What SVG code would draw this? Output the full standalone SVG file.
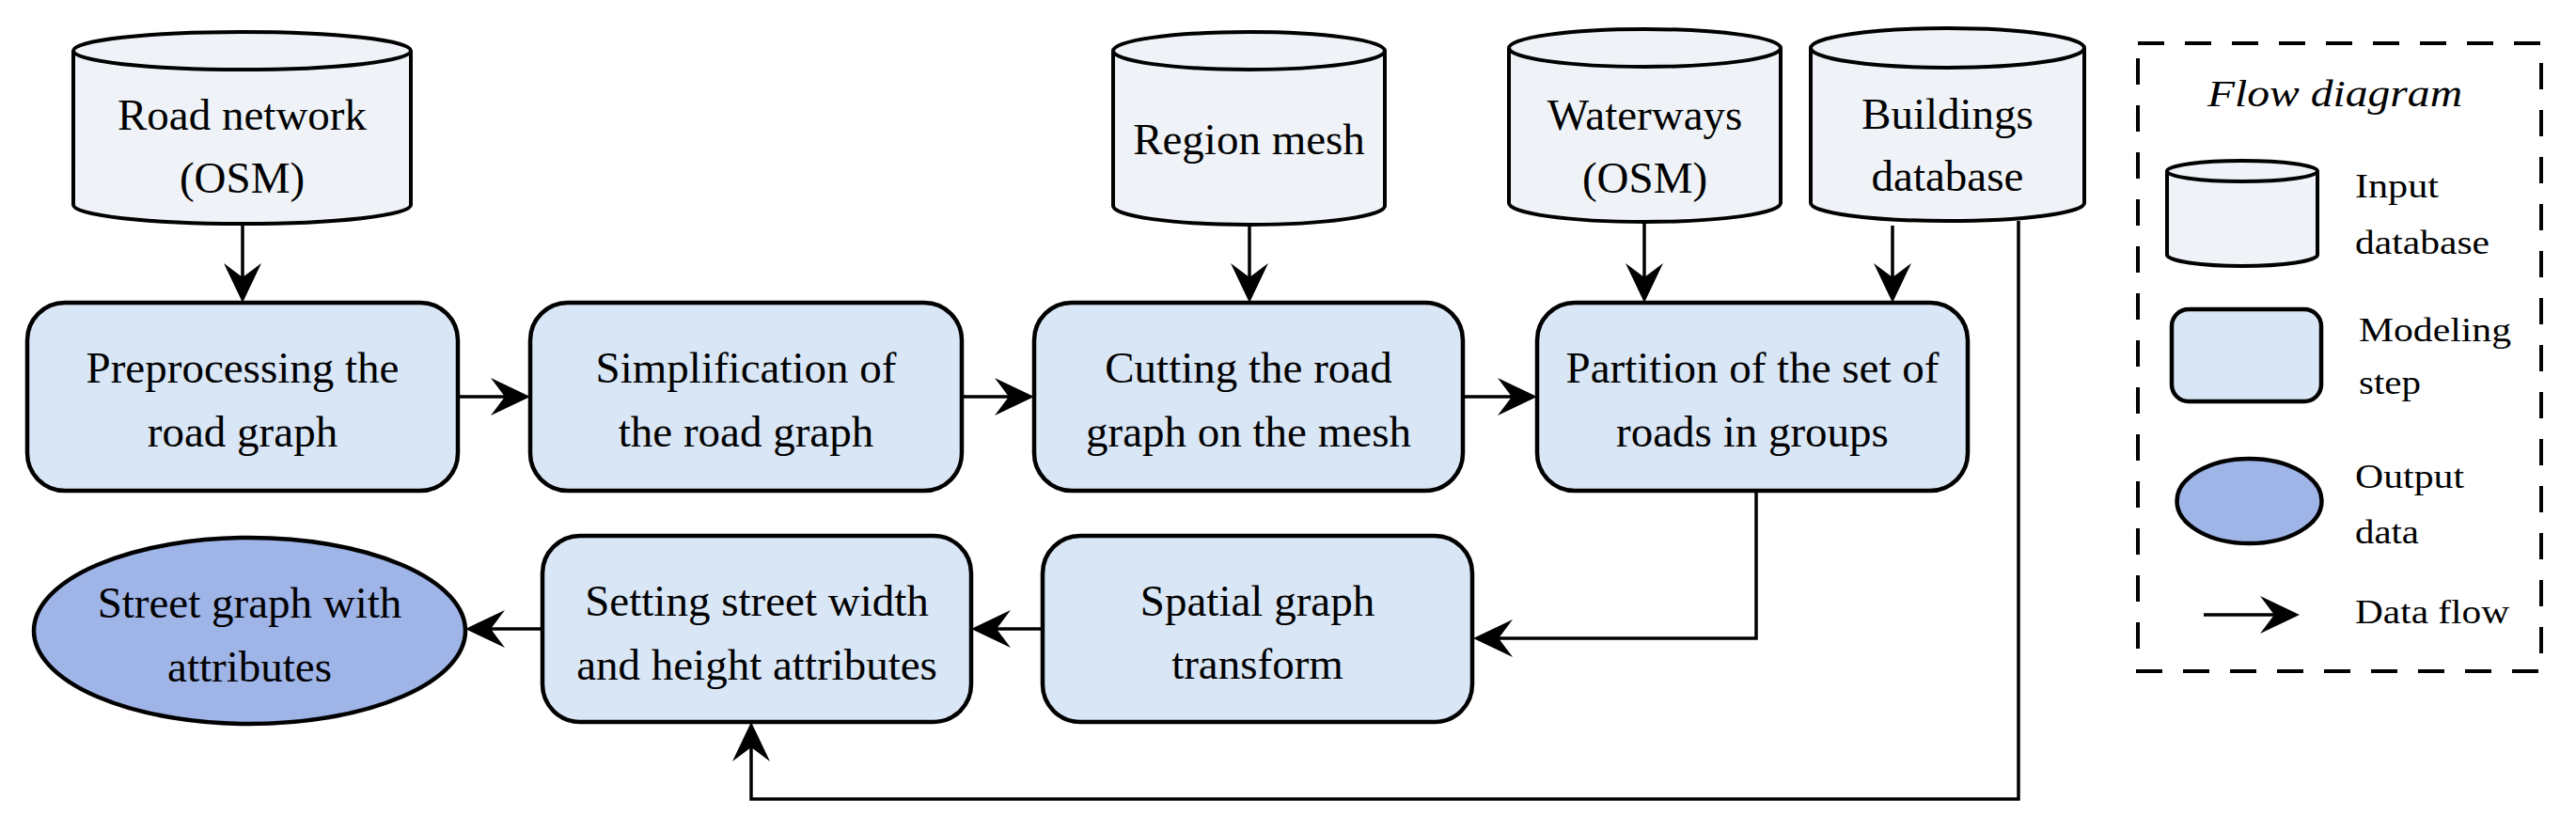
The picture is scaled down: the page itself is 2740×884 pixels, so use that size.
<svg xmlns="http://www.w3.org/2000/svg" width="2740" height="884" viewBox="0 0 2740 884">
<style>
.cyl{fill:#eff3f7;stroke:#000;stroke-width:4}
.box{fill:#d9e6f6;stroke:#000;stroke-width:4.5}
.out{fill:#9fb4e7;stroke:#000;stroke-width:4.5}
.t{font-family:"Liberation Serif","Times New Roman",serif;font-size:47px;fill:#000;text-anchor:middle}
.lt{font-family:"Liberation Serif","Times New Roman",serif;font-size:36px;fill:#000}
.c{fill:none;stroke:#000;stroke-width:3.5}
</style>
<defs>
<marker id="ah" markerUnits="userSpaceOnUse" markerWidth="42" markerHeight="40" viewBox="0 0 42 40" refX="15" refY="20" orient="auto"><path d="M42,20 L0,0 L15,20 L0,40 Z" fill="#000"/></marker>
</defs>
<rect width="2740" height="884" fill="#fff"/>

<g id="connectors">
<path class="c" d="M258,238 V295" marker-end="url(#ah)"/>
<path class="c" d="M1329,239 V295" marker-end="url(#ah)"/>
<path class="c" d="M1749,236 V295" marker-end="url(#ah)"/>
<path class="c" d="M2013,240 V295" marker-end="url(#ah)"/>
<path class="c" d="M487,422 H537" marker-end="url(#ah)"/>
<path class="c" d="M1023,422 H1073" marker-end="url(#ah)"/>
<path class="c" d="M1556,422 H1608" marker-end="url(#ah)"/>
<path class="c" d="M1868,522 V679 H1594" marker-end="url(#ah)"/>
<path class="c" d="M1109,669 H1060" marker-end="url(#ah)"/>
<path class="c" d="M577,669 H522" marker-end="url(#ah)"/>
<path class="c" d="M2147,235 V850 H799 V795" marker-end="url(#ah)"/>
</g>

<g id="road-network">
<path class="cyl" d="M78,54 A179.5,20 0 0 1 437,54 V218 A179.5,20 0 0 1 78,218 Z"/>
<path class="cyl" d="M78,54 A179.5,20 0 0 0 437,54" fill="none"/>
<text class="t" x="257.5" y="138">Road network</text>
<text class="t" x="257.5" y="205">(OSM)</text>
</g>

<g id="region-mesh">
<path class="cyl" d="M1184,54 A144.5,20 0 0 1 1473,54 V219 A144.5,20 0 0 1 1184,219 Z"/>
<path class="cyl" d="M1184,54 A144.5,20 0 0 0 1473,54" fill="none"/>
<text class="t" x="1328.5" y="164">Region mesh</text>
</g>

<g id="waterways">
<path class="cyl" d="M1605,51 A144.5,20 0 0 1 1894,51 V216 A144.5,20 0 0 1 1605,216 Z"/>
<path class="cyl" d="M1605,51 A144.5,20 0 0 0 1894,51" fill="none"/>
<text class="t" x="1749.5" y="138">Waterways</text>
<text class="t" x="1749.5" y="205">(OSM)</text>
</g>

<g id="buildings">
<path class="cyl" d="M1926,51 A145.5,21 0 0 1 2217,51 V216 A145.5,19 0 0 1 1926,216 Z"/>
<path class="cyl" d="M1926,51 A145.5,21 0 0 0 2217,51" fill="none"/>
<text class="t" x="2071.5" y="137">Buildings</text>
<text class="t" x="2071.5" y="203">database</text>
</g>

<g id="preprocessing">
<rect class="box" x="29" y="322" width="458" height="200" rx="40"/>
<text class="t" x="258" y="407">Preprocessing the</text>
<text class="t" x="258" y="475">road graph</text>
</g>

<g id="simplification">
<rect class="box" x="564" y="322" width="459" height="200" rx="40"/>
<text class="t" x="793.5" y="407">Simplification of</text>
<text class="t" x="793.5" y="475">the road graph</text>
</g>

<g id="cutting">
<rect class="box" x="1100" y="322" width="456" height="200" rx="40"/>
<text class="t" x="1328" y="407">Cutting the road</text>
<text class="t" x="1328" y="475">graph on the mesh</text>
</g>

<g id="partition">
<rect class="box" x="1635" y="322" width="458" height="200" rx="40"/>
<text class="t" x="1864" y="407">Partition of the set of</text>
<text class="t" x="1864" y="475">roads in groups</text>
</g>

<g id="spatial">
<rect class="box" x="1109" y="570" width="457" height="198" rx="40"/>
<text class="t" x="1337.5" y="655">Spatial graph</text>
<text class="t" x="1337.5" y="722">transform</text>
</g>

<g id="setting">
<rect class="box" x="577" y="570" width="456" height="198" rx="40"/>
<text class="t" x="805" y="655">Setting street width</text>
<text class="t" x="805" y="723">and height attributes</text>
</g>

<g id="street-graph">
<ellipse class="out" cx="265.5" cy="671" rx="229.5" ry="99"/>
<text class="t" x="265.5" y="657">Street graph with</text>
<text class="t" x="265.5" y="725">attributes</text>
</g>

<g id="legend">
<rect x="2274" y="46" width="429" height="668" fill="none" stroke="#000" stroke-width="4" stroke-dasharray="28 22"/>
<text x="2348" y="113" font-family="'Liberation Serif','Times New Roman',serif" font-size="40" font-style="italic" textLength="271" lengthAdjust="spacingAndGlyphs">Flow diagram</text>
<path class="cyl" d="M2305,182 A80,11 0 0 1 2465,182 V271 A80,12 0 0 1 2305,271 Z"/>
<path class="cyl" d="M2305,182 A80,11 0 0 0 2465,182" fill="none"/>
<text class="lt" x="2505" y="210" textLength="89" lengthAdjust="spacingAndGlyphs">Input</text>
<text class="lt" x="2505" y="270" textLength="143" lengthAdjust="spacingAndGlyphs">database</text>
<rect class="box" x="2310" y="329" width="159" height="98" rx="18" stroke-width="4"/>
<text class="lt" x="2509" y="363" textLength="162" lengthAdjust="spacingAndGlyphs">Modeling</text>
<text class="lt" x="2509" y="419" textLength="66" lengthAdjust="spacingAndGlyphs">step</text>
<ellipse class="out" cx="2392.5" cy="533" rx="77" ry="45" stroke-width="4"/>
<text class="lt" x="2505" y="519" textLength="116" lengthAdjust="spacingAndGlyphs">Output</text>
<text class="lt" x="2505" y="578" textLength="68" lengthAdjust="spacingAndGlyphs">data</text>
<path class="c" d="M2344,654 H2419" marker-end="url(#ah)"/>
<text class="lt" x="2505" y="663" textLength="164" lengthAdjust="spacingAndGlyphs">Data flow</text>
</g>
</svg>
